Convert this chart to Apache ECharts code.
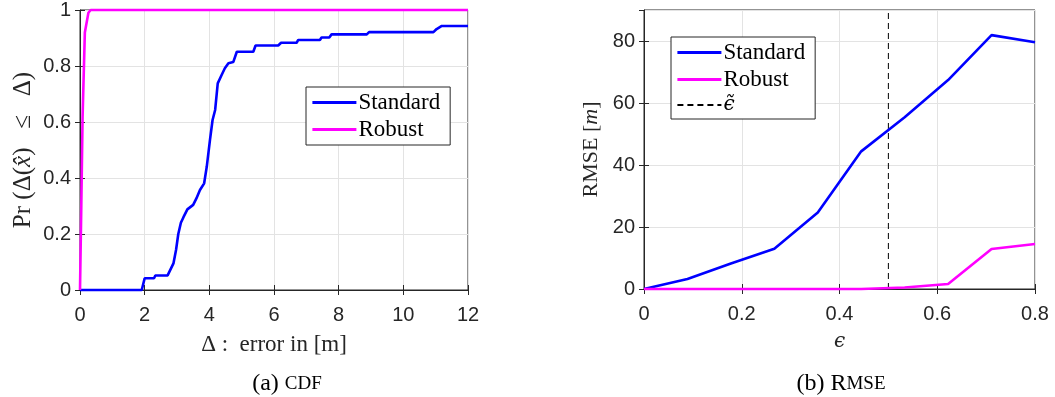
<!DOCTYPE html>
<html>
<head>
<meta charset="utf-8">
<script src="https://cdn.jsdelivr.net/npm/echarts@6/dist/echarts.min.js"></script>
<style>html,body{margin:0;padding:0;background:#fff}#c{width:1055px;height:397px}</style>
</head>
<body>
<div id="c"></div>
<script>
// ---- Data (a) CDF ----
const cdfStdX = [0,1.91,2.0,2.29,2.33,2.71,2.89,2.97,3.04,3.12,3.2,3.32,3.5,3.6,3.71,3.84,3.92,4.02,4.1,4.18,4.26,4.38,4.48,4.59,4.74,4.85,5.36,5.43,6.13,6.22,6.7,6.75,7.42,7.47,7.71,7.78,8.87,8.94,10.93,11.03,11.19,12];
const cdfStdY = [0,0,0.042,0.042,0.052,0.052,0.095,0.143,0.2,0.24,0.26,0.288,0.304,0.327,0.357,0.381,0.44,0.536,0.607,0.643,0.738,0.768,0.792,0.81,0.814,0.851,0.851,0.873,0.873,0.883,0.883,0.893,0.893,0.902,0.902,0.913,0.913,0.921,0.921,0.932,0.943,0.943];
const cdfRobX = [0,0.04,0.08,0.15,0.26,0.33,12];
const cdfRobY = [0,0.3,0.62,0.92,0.99,1,1];
// ---- Data (b) RMSE ----
const epsVals = [0,0.0889,0.1778,0.2667,0.3556,0.4444,0.5333,0.6222,0.7111,0.8];
const rmseStd = [0,3.2,8.2,13,24.7,44.4,55.4,67.4,81.9,79.6];
const rmseRob = [0,0,0,0,0,0,0.5,1.6,12.9,14.5];
const epsTilde = 0.5;
const rmseYMax = 90;

const zip = (xs, ys) => xs.map((x, i) => [x, ys[i]]);
const AX = '#262626', GRIDC = '#e3e3e3';
const SANS = 'Liberation Sans', SERIF = 'Liberation Serif';
const tickLbl = {color: AX, fontFamily: SANS, fontSize: 20};
function mkRich(sz) {
  return {
    n: {fontFamily: SERIF, fontSize: sz, color: AX},
    i: {fontFamily: SERIF, fontSize: sz, fontStyle: 'italic', color: AX},
    g: {fontFamily: 'DejaVu Serif', fontSize: sz - 2, fontStyle: 'italic', color: AX}
  };
}
function xAx(grid, min, max, interval, name, sz) {
  return [{
    type: 'value', gridIndex: grid, min, max, interval,
    axisLine: {show: true, onZero: false, lineStyle: {color: AX, width: 1}},
    axisTick: {show: true, inside: true, length: 5, lineStyle: {color: AX}},
    axisLabel: Object.assign({}, tickLbl, {margin: 15, formatter: v => String(+v.toFixed(2))}),
    splitLine: {show: true, lineStyle: {color: GRIDC, width: 1}},
    name, nameLocation: 'middle', nameGap: 43,
    nameTextStyle: {fontFamily: SERIF, fontSize: sz, color: AX, rich: mkRich(sz)}
  }, {
    type: 'value', gridIndex: grid, min, max, interval, position: 'top',
    axisLine: {show: false}, axisLabel: {show: false}, splitLine: {show: false},
    axisTick: {show: true, inside: true, length: 5, lineStyle: {color: AX}}
  }];
}
function yAx(grid, min, max, interval, showMax, name, gap, sz) {
  return [{
    type: 'value', gridIndex: grid, min, max, interval,
    axisLine: {show: true, onZero: false, lineStyle: {color: AX, width: 1}},
    axisTick: {show: true, inside: true, length: 5, lineStyle: {color: AX}},
    axisLabel: Object.assign({}, tickLbl, {margin: 9, showMaxLabel: showMax,
      formatter: v => String(+v.toFixed(2))}),
    splitLine: {show: true, lineStyle: {color: GRIDC, width: 1}},
    name, nameLocation: 'middle', nameGap: gap,
    nameTextStyle: {fontFamily: SERIF, fontSize: sz, color: AX, rich: mkRich(sz)}
  }, {
    type: 'value', gridIndex: grid, min, max, interval, position: 'right',
    axisLine: {show: false}, axisLabel: {show: false}, splitLine: {show: false},
    axisTick: {show: true, inside: true, length: 5, lineStyle: {color: AX}}
  }];
}
const lineS = (name, xi, yi, data, color) => ({
  name, type: 'line', xAxisIndex: xi, yAxisIndex: yi, data,
  symbol: 'none', clip: false, z: 5,
  lineStyle: {color, width: 2.6}, itemStyle: {color}
});
const [xa0, xa0t] = xAx(0, 0, 12, 2, '{n|Δ :  error in [m]}', 23);
const [xa1, xa1t] = xAx(1, 0, 0.8, 0.2, '{g|ϵ}', 22);
const [ya0, ya0r] = yAx(0, 0, 1, 0.2, true, '{n|Pr (Δ(}{i|x̂}{n|)   ≤   Δ)}', 44, 25);
const [ya1, ya1r] = yAx(1, 0, rmseYMax, 20, false, '{n|RMSE [}{i|m}{n|]}', 42, 22);

const legendBase = {
  orient: 'vertical', itemWidth: 44, itemHeight: 12, itemGap: 4,
  backgroundColor: '#fff', borderColor: AX, borderWidth: 1, borderRadius: 0,
  padding: [4, 10, 4, 5],
  itemStyle: {opacity: 0, borderWidth: 0},
  textStyle: {fontFamily: SERIF, fontSize: 23, color: '#000', padding: [0, 0, 0, -3], rich: {
    g: {fontFamily: 'DejaVu Serif', fontSize: 20, fontStyle: 'italic', color: '#000'}}}
};
const thick = n => ({name: n, lineStyle: {width: 2.8}});
const option = {
  animation: false,
  backgroundColor: '#fff',
  grid: [
    {left: 80, top: 10, width: 388, height: 280, show: true, borderColor: AX, borderWidth: 1, backgroundColor: 'transparent'},
    {left: 644, top: 10, width: 391, height: 279, show: true, borderColor: AX, borderWidth: 1, backgroundColor: 'transparent'}
  ],
  xAxis: [xa0, xa0t, xa1, xa1t],
  yAxis: [ya0, ya0r, ya1, ya1r],
  legend: [
    Object.assign({}, legendBase, {left: 306, top: 87, data: [thick('Standard'), thick('Robust')]}),
    Object.assign({}, legendBase, {left: 671, top: 37, data: [thick('Standard'), thick('Robust'), 'eps'],
      formatter: n => n === 'eps' ? '{g|ϵ̃}' : n})
  ],
  series: [
    lineS('Standard', 0, 0, zip(cdfStdX, cdfStdY), '#0000ff'),
    lineS('Robust', 0, 0, zip(cdfRobX, cdfRobY), '#ff00ff'),
    lineS('Standard', 2, 2, zip(epsVals, rmseStd), '#0000ff'),
    lineS('Robust', 2, 2, zip(epsVals, rmseRob), '#ff00ff'),
    {name: 'eps', type: 'line', xAxisIndex: 2, yAxisIndex: 2, symbol: 'none', z: 3,
     data: [[epsTilde, 0], [epsTilde, rmseYMax]],
     lineStyle: {color: '#000', width: 1, type: [6, 4]}, itemStyle: {color: '#000'}}
  ],
  graphic: [
    {type: 'text', x: 287, y: 384, style: {
      text: '{n|(a) }{s|CDF}', align: 'center', verticalAlign: 'middle',
      rich: {n: {fontFamily: SERIF, fontSize: 24, fill: '#000'}, s: {fontFamily: SERIF, fontSize: 19, fill: '#000'}}}},
    {type: 'text', x: 841, y: 384, style: {
      text: '{n|(b) R}{s|MSE}', align: 'center', verticalAlign: 'middle',
      rich: {n: {fontFamily: SERIF, fontSize: 24, fill: '#000'}, s: {fontFamily: SERIF, fontSize: 19, fill: '#000'}}}}
  ]
};
const chart = echarts.init(document.getElementById('c'), null, {renderer: 'canvas'});
chart.setOption(option);
</script>
</body>
</html>
